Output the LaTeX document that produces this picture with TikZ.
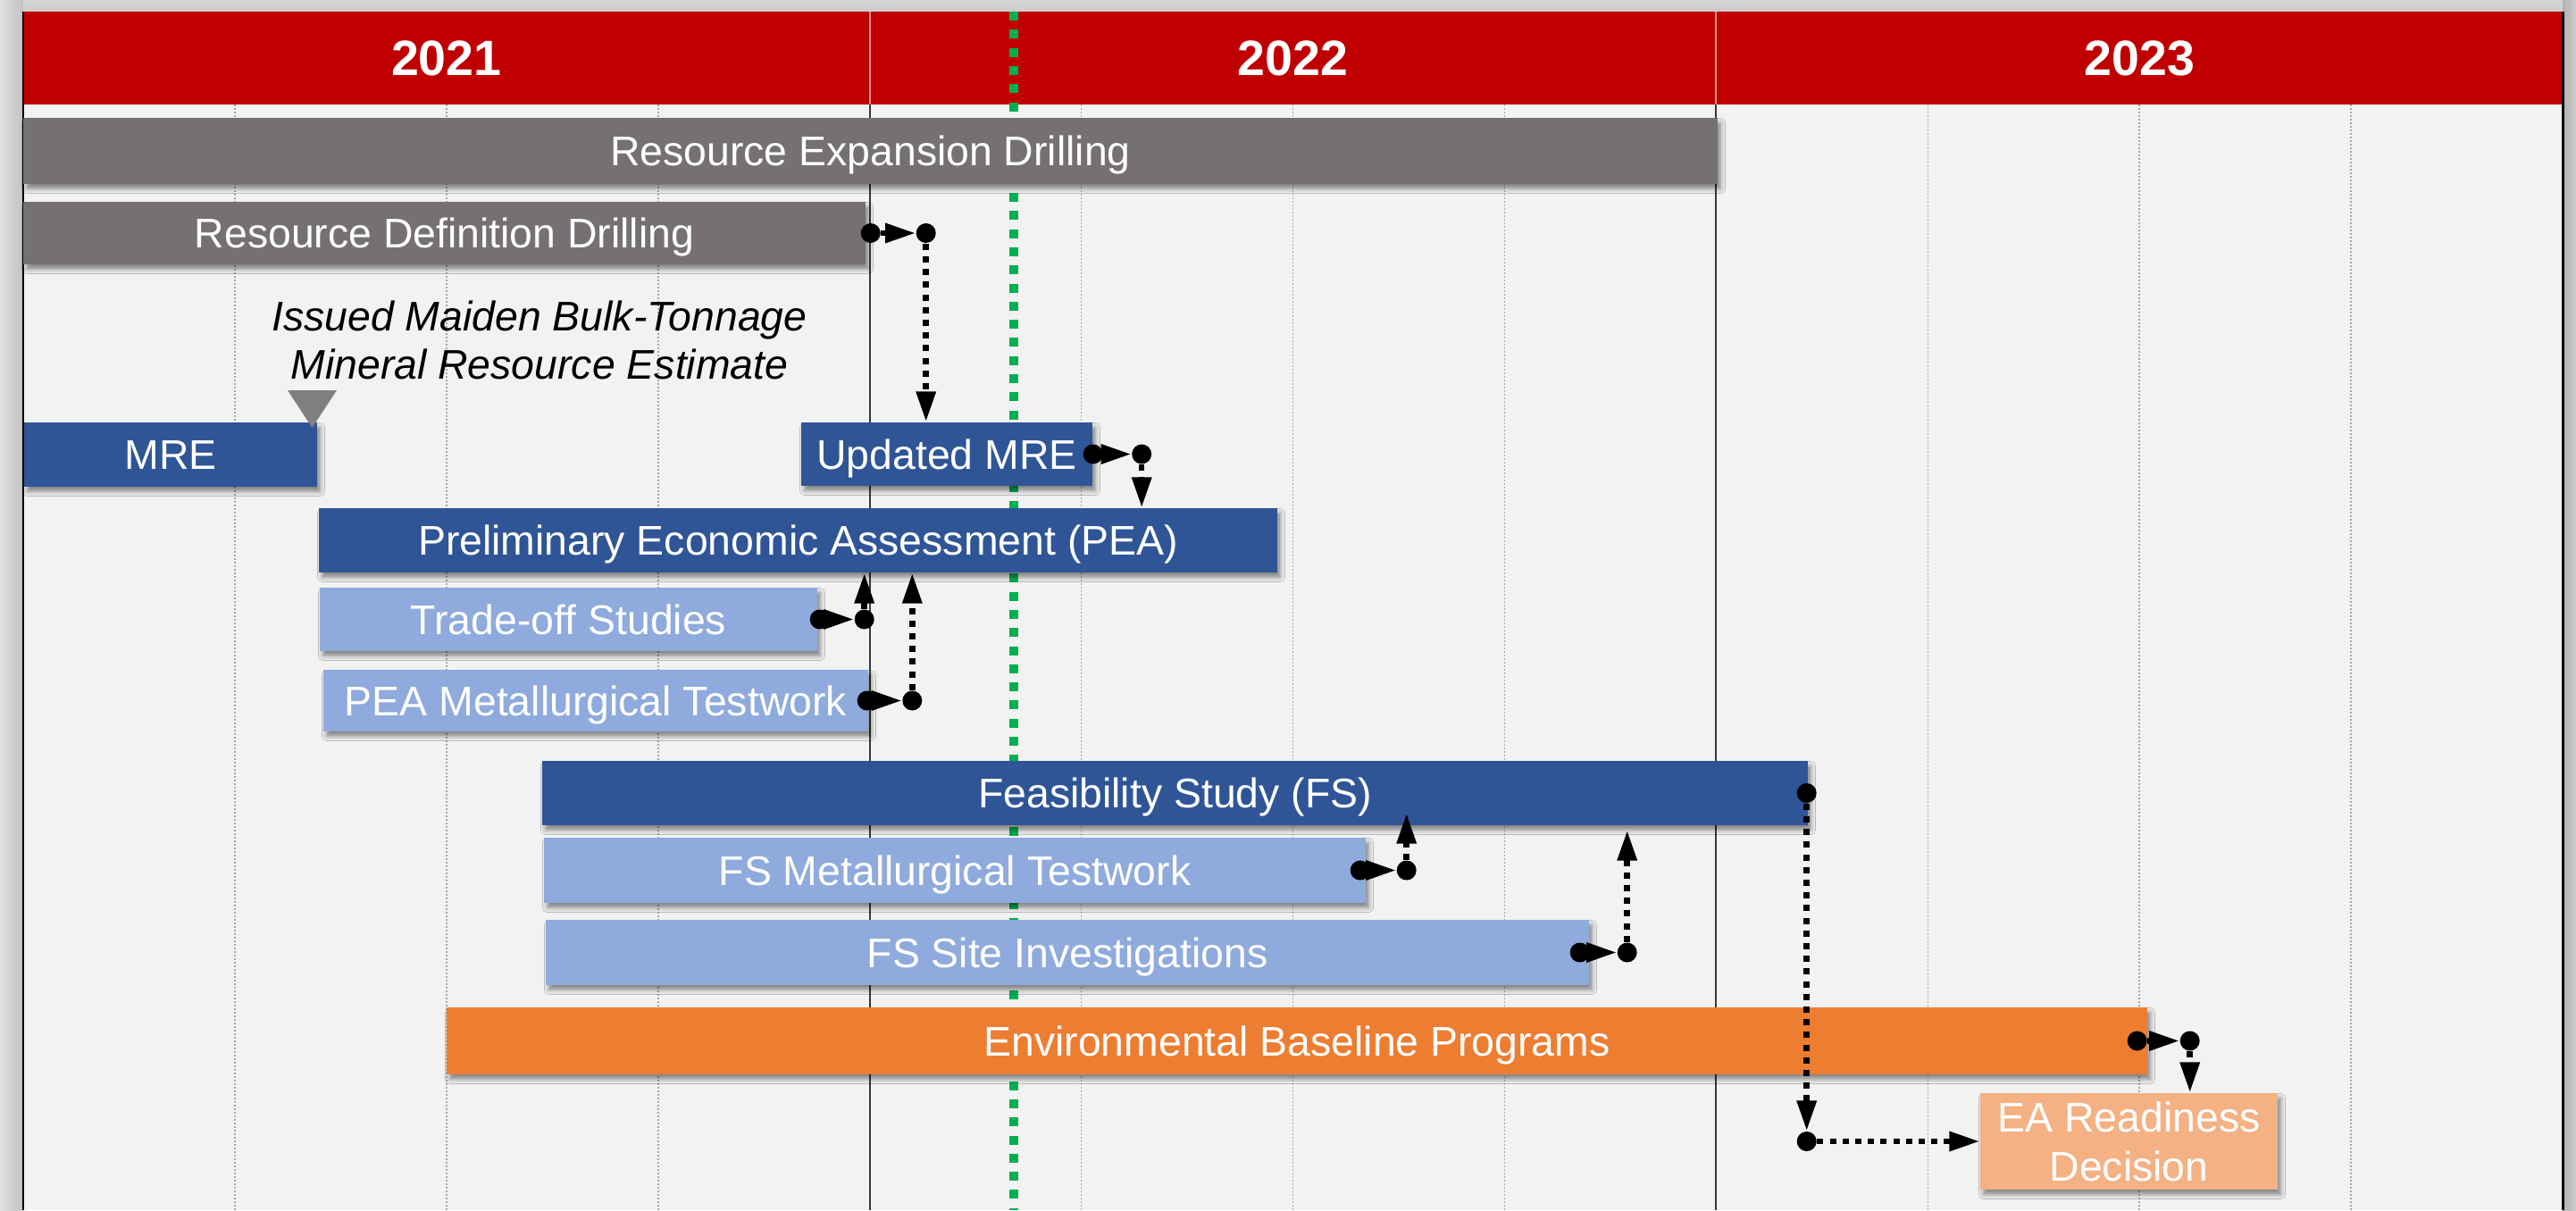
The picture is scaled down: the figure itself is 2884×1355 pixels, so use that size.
\documentclass[tikz,border=0pt]{standalone}
\usepackage{fontspec}
\setmainfont{Liberation Sans}
\usetikzlibrary{arrows.meta,calc,shadows.blur}

\definecolor{hdrred}{HTML}{C00000}
\definecolor{bodybg}{HTML}{F2F2F2}
\definecolor{drillgray}{HTML}{767171}
\definecolor{studyblue}{HTML}{2F5597}
\definecolor{workblue}{HTML}{8FAADC}
\definecolor{envorange}{HTML}{ED7D31}
\definecolor{eapeach}{HTML}{F4B183}
\definecolor{todaygreen}{HTML}{00B050}
\definecolor{milestonegray}{HTML}{7F7F7F}
\definecolor{framegray}{HTML}{D2D2D2}

\tikzset{
  taskbox/.style={rectangle, inner sep=0pt, text=white,
    font=\fontsize{13.2}{15.6}\selectfont,
    blur shadow={shadow xshift=0.35mm, shadow yshift=-0.55mm,
                 shadow blur radius=0.5mm, shadow opacity=45}},
  taskbar/.style={taskbox, text height=3.35mm, text depth=0pt},
  drilling/.style={taskbar, fill=drillgray},
  study/.style={taskbar, fill=studyblue},
  work/.style={taskbar, fill=workblue},
  envbar/.style={taskbar, fill=envorange},
  decision/.style={taskbox, fill=eapeach, align=center},
  yearlabel/.style={text=white, font=\fontsize{15.8}{18}\selectfont\bfseries},
  note/.style={align=center, text=black, font=\fontsize{13.2}{15.3}\selectfont\itshape},
  link/.style={line width=0.65mm, dash pattern=on 0.7mm off 0.72mm,
    -{Triangle[length=3.4mm,width=2.1mm]}},
  junction/.style={circle, fill=black, inner sep=0pt, minimum size=2.2mm},
  quarterline/.style={draw=black!35, line width=0.15mm, dash pattern=on 0.2mm off 0.2mm},
  yearline/.style={draw=black!78, line width=0.2mm},
  todayline/.style={draw=todaygreen, line width=1mm, dash pattern=on 1mm off 1.03mm},
}

% task bar: name, x1, y1, x2, y2, style, text (coordinates in 0.1 mm units, y downward)
\newcommand\taskbar[7]{%
  \node[#6, minimum width={(#4-#2)*0.1mm}, minimum height={(#5-#3)*0.1mm}]
    (#1) at ({(#2+#4)/2},{(#3+#5)/2}) {#7};}

\begin{document}
\begin{tikzpicture}[x=0.1mm, y=-0.1mm]
  \useasboundingbox (0,0) rectangle (2884,1355);

  % frame around the chart
  \fill[framegray] (0,0) rectangle (2884,1355);
  \shade[left color=black!12, right color=black!24] (0,0) rectangle (26,1355);
  \shade[top color=black!16, bottom color=black!20] (26,0) rectangle (2869,13);
  \shade[left color=black!30, right color=black!20] (2869,0) rectangle (2884,1355);

  % timeline header and body
  \fill[hdrred] (26,13) rectangle (2869,117);
  \fill[bodybg] (26,117) rectangle (2869,1355);

  % quarter grid
  \foreach \k in {1,2,3,5,6,7,9,10,11}
    \draw[quarterline] ({26+\k*947.67/4},117) -- ({26+\k*947.67/4},1355);
  % year dividers
  \foreach \xx in {973.67,1921.33} {
    \draw[yearline] (\xx,117) -- (\xx,1355);
    \draw[white!55!hdrred, line width=0.2mm] (\xx,13) -- (\xx,117);
  }
  \draw[black, line width=0.2mm] (26,13) -- (26,1355);
  \draw[black, line width=0.3mm] (2869,13) -- (2869,1355);

  \node[yearlabel] (y2021) at (499.8,65) {2021};
  \node[yearlabel] (y2022) at (1447.5,65) {2022};
  \node[yearlabel] (y2023) at (2395.2,65) {2023};

  % status date
  \draw[todayline] (1135,13) -- (1135,1355);

  % tasks
  \taskbar{red}{26}{132}{1923}{206}{drilling}{Resource Expansion Drilling}
  \taskbar{rdd}{26}{226}{969}{296}{drilling}{Resource Definition Drilling}
  \taskbar{mre}{27}{473}{355}{545}{study}{MRE}
  \taskbar{umre}{897}{473}{1223}{544}{study}{Updated MRE}
  \taskbar{pea}{357}{569}{1430}{641}{study}{Preliminary Economic Assessment (PEA)}
  \taskbar{trade}{358}{658}{915}{729}{work}{Trade-off Studies}
  \taskbar{peamet}{362}{750}{972}{819}{work}{PEA Metallurgical Testwork}
  \taskbar{fs}{607}{852}{2024}{924}{study}{Feasibility Study (FS)}
  \taskbar{fsmet}{609}{938}{1529}{1011}{work}{FS Metallurgical Testwork}
  \taskbar{fssite}{611}{1030}{1779}{1103}{work}{FS Site Investigations}
  \taskbar{env}{500}{1128}{2404}{1203}{envbar}{Environmental Baseline Programs}
  \taskbar{ea}{2217}{1224}{2550}{1332}{decision}{EA Readiness\\Decision}

  % maiden resource milestone
  \fill[milestonegray] (322,437) -- (377,437) -- (349.5,479) -- cycle;
  \node[note] (maiden) at (604,381) {Issued Maiden Bulk-Tonnage\\Mineral Resource Estimate};

  % dependency links
  \node[junction] (s1) at ([xshift=0.5mm]rdd.east) {};
  \node[junction] (j1) at ($(s1)+(62,0)$) {};
  \draw[link] (s1) -- (j1);
  \draw[link] (j1) -- (j1 |- umre.north);

  \node[junction] (s2) at (umre.east) {};
  \node[junction] (j2) at ($(s2)+(54.5,0)$) {};
  \draw[link] (s2) -- (j2);
  \draw[link] (j2) -- (j2 |- pea.north);

  \node[junction] (s3) at ([xshift=0.2mm]trade.east) {};
  \node[junction] (j3) at ($(s3)+(50,0)$) {};
  \draw[link] (s3) -- (j3);
  \draw[link] (j3) -- (j3 |- pea.south);

  \node[junction] (s4) at ([xshift=-0.2mm]peamet.east) {};
  \node[junction] (j4) at ($(s4)+(50.6,0)$) {};
  \draw[link] (s4) -- (j4);
  \draw[link] (j4) -- (j4 |- pea.south);

  \node[junction] (s5) at ([xshift=-0.7mm]fsmet.east) {};
  \node[junction] (j5) at ($(s5)+(52,0)$) {};
  \draw[link] (s5) -- (j5);
  \draw[link] (j5) -- ($(j5 |- fs.south)+(0,-14)$);

  \node[junction] (s6) at ([xshift=-1.1mm]fssite.east) {};
  \node[junction] (j6) at ($(s6)+(53,0)$) {};
  \draw[link] (s6) -- (j6);
  \draw[link] (j6) -- ($(j6 |- fs.south)+(0,5)$);

  \node[junction] (s7) at ([xshift=-0.2mm]fs.east) {};
  \node[junction] (j7) at (s7 |- ea.west) {};
  \draw[link] (s7) -- (j7);
  \draw[link] (j7) -- (ea.west);

  \node[junction] (s8) at ([xshift=-1.2mm]env.east) {};
  \node[junction] (j8) at ($(s8)+(59,0)$) {};
  \draw[link] (s8) -- (j8);
  \draw[link] (j8) -- (j8 |- ea.north);
\end{tikzpicture}
\end{document}
